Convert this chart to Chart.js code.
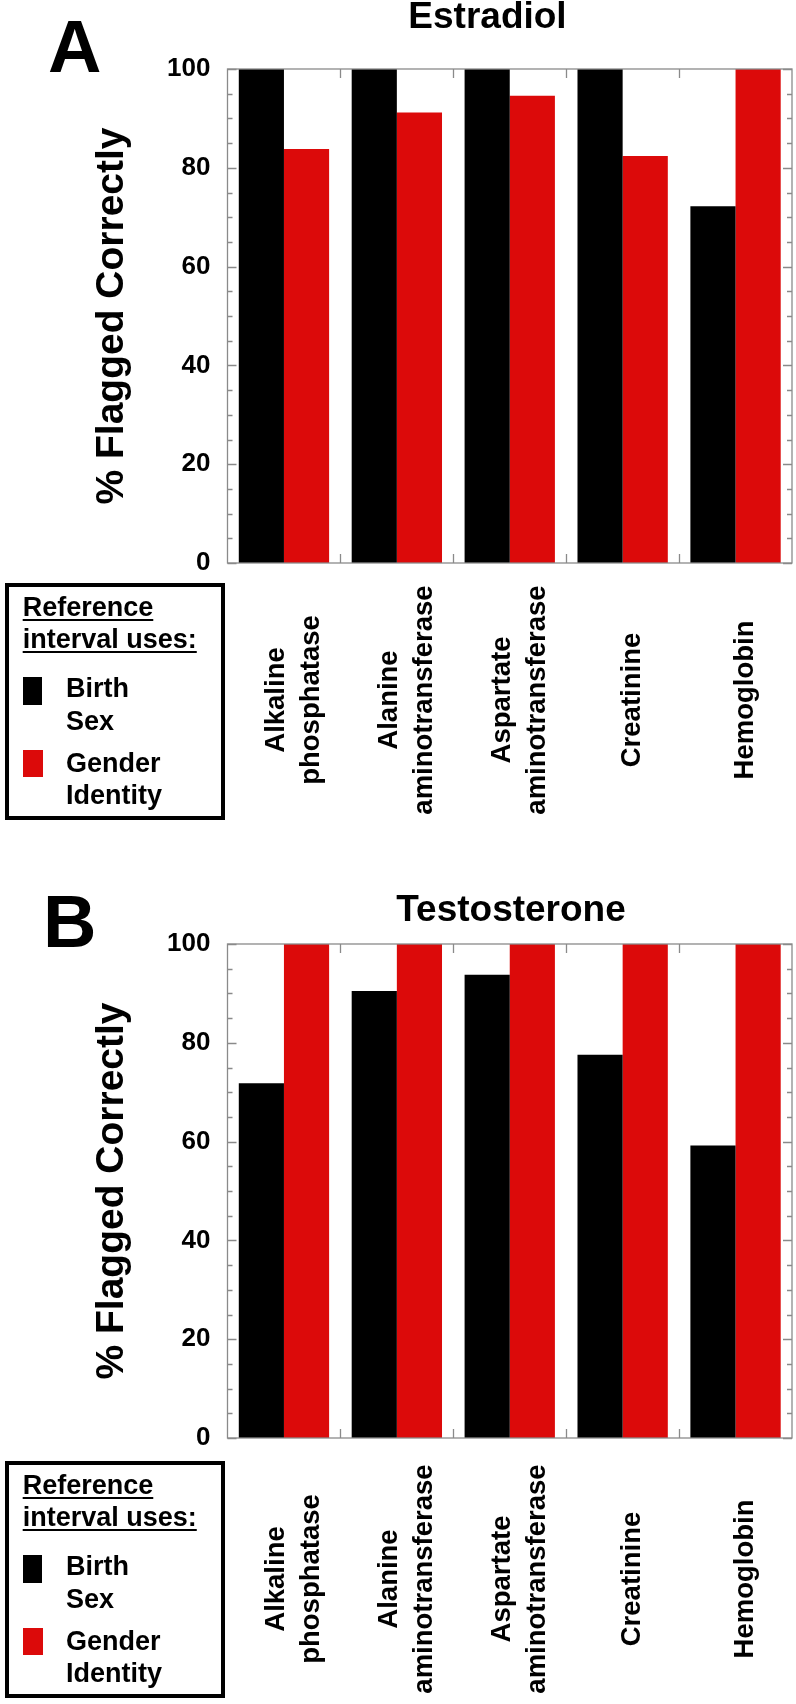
<!DOCTYPE html>
<html>
<head>
<meta charset="utf-8">
<script src="https://cdn.jsdelivr.net/npm/chart.js@4.4.1/dist/chart.umd.min.js"></script>
<style>
  html, body { margin: 0; padding: 0; background: #fff; }
  body { width: 796px; height: 1704px; position: relative; overflow: hidden; font-family: "Liberation Sans", Arial, sans-serif; font-weight: bold; color: #000; }
  canvas { position: absolute; left: 0; }
  .t { position: absolute; white-space: nowrap; font-weight: bold; }
  .box { position: absolute; box-sizing: border-box; border: 4px solid #000; }
  .sw { position: absolute; }
  .u { text-decoration: underline; text-decoration-thickness: 2px; text-underline-offset: 3px; }
</style>
</head>
<body>
<canvas id="chartA" width="796" height="860" style="top:0px;width:796px;height:860px"></canvas>
<canvas id="chartB" width="796" height="829" style="top:875px;width:796px;height:829px"></canvas>
<script>
// ---------- data ----------
const categories = [
  ['Alkaline', 'phosphatase'],
  ['Alanine', 'aminotransferase'],
  ['Aspartate', 'aminotransferase'],
  ['Creatinine'],
  ['Hemoglobin']
];
const seriesNames = ['Birth Sex', 'Gender Identity'];
const estradiolBirthSex       = [100, 100, 100, 100, 72.2];
const estradiolGenderIdentity = [83.8, 91.2, 94.6, 82.4, 100];
const testosteroneBirthSex       = [71.8, 90.5, 93.8, 77.6, 59.2];
const testosteroneGenderIdentity = [100, 100, 100, 100, 100];
const yTicks = [0, 20, 40, 60, 80, 100];
const panelTitles = ['Estradiol', 'Testosterone'];
const panelLetters = ['A', 'B'];
const yAxisTitle = '% Flagged Correctly';
const legendHeading = ['Reference', 'interval uses:'];
const legendLines = [['Birth', 'Sex'], ['Gender', 'Identity']];

// ---------- style ----------
const FONT = '"Liberation Sans", Arial, sans-serif';
const BLACK = '#000000';
const RED = '#dc0a0a';
const FRAME = '#8a8a8a';
const PLOT_TOP = 69, PLOT_BOTTOM = 563, PLOT_LEFT = 227.5, PLOT_RIGHT = 792;
const MINOR_STEP = 5, MAJOR_STEP = 20;

const framePlugin = {
  id: 'frame',
  afterDatasetsDraw(chart) {
    const { ctx, chartArea: a, scales: { x, y } } = chart;
    ctx.save();
    ctx.strokeStyle = FRAME;
    ctx.lineWidth = 1.3;
    ctx.strokeRect(a.left, a.top, a.right - a.left, a.bottom - a.top);
    ctx.beginPath();
    for (let v = y.min; v <= y.max; v += MINOR_STEP) {
      const py = Math.round(y.getPixelForValue(v)) + 0.5;
      const len = (v % MAJOR_STEP === 0) ? 9 : 5;
      ctx.moveTo(a.left, py); ctx.lineTo(a.left + len, py);
      ctx.moveTo(a.right, py); ctx.lineTo(a.right - len, py);
    }
    const n = chart.data.labels.length;
    for (let i = 0; i < n - 1; i++) {
      const px = Math.round((x.getPixelForValue(i) + x.getPixelForValue(i + 1)) / 2) + 0.5;
      ctx.moveTo(px, a.top); ctx.lineTo(px, a.top + 9);
      ctx.moveTo(px, a.bottom); ctx.lineTo(px, a.bottom - 9);
    }
    ctx.stroke();
    ctx.restore();
  }
};

function makeXLabelPlugin(centerY) {
  return {
    id: 'xlabels',
    afterDraw(chart) {
      const { ctx, scales: { x } } = chart;
      const fs = 27.5, lh = 35, shift = 8;
      const capH = 0.716 * fs;
      ctx.save();
      ctx.fillStyle = '#000';
      ctx.font = 'bold ' + fs + 'px ' + FONT;
      ctx.textAlign = 'center';
      ctx.textBaseline = 'alphabetic';
      categories.forEach((lines, i) => {
        const cx = x.getPixelForValue(i) + shift;
        ctx.save();
        ctx.translate(cx, centerY);
        ctx.rotate(-Math.PI / 2);
        lines.forEach((ln, k) => {
          const off = (k - (lines.length - 1) / 2) * lh + capH / 2;
          ctx.fillText(ln, 0, off);
        });
        ctx.restore();
      });
      ctx.restore();
    }
  };
}

function makeChart(id, canvasH, birth, gender, labelCenterY) {
  return new Chart(document.getElementById(id), {
    type: 'bar',
    data: {
      labels: categories.map(l => l.join(' ')),
      datasets: [
        { label: seriesNames[0], data: birth, backgroundColor: BLACK, borderWidth: 0, categoryPercentage: 0.8, barPercentage: 1.0 },
        { label: seriesNames[1], data: gender, backgroundColor: RED, borderWidth: 0, categoryPercentage: 0.8, barPercentage: 1.0 }
      ]
    },
    options: {
      responsive: false,
      animation: false,
      devicePixelRatio: 1,
      layout: { padding: { top: PLOT_TOP, right: 796 - PLOT_RIGHT, bottom: canvasH - PLOT_BOTTOM, left: 0 } },
      plugins: { legend: { display: false }, tooltip: { enabled: false }, title: { display: false } },
      scales: {
        x: {
          ticks: { display: false },
          grid: { display: false, drawTicks: false },
          border: { display: false },
          afterFit(s) { s.height = 0; }
        },
        y: {
          min: 0, max: 100,
          afterBuildTicks(s) { s.ticks = yTicks.map(v => ({ value: v })); },
          ticks: { color: '#000', padding: 17, font: { family: FONT, size: 26, weight: 'bold' } },
          grid: { display: false, drawTicks: false },
          border: { display: false },
          title: { display: true, text: yAxisTitle, color: '#000', font: { family: FONT, size: 39, weight: 'bold' }, padding: { top: 89, bottom: 0 } },
          afterFit(s) { s.width = PLOT_LEFT; }
        }
      }
    },
    plugins: [framePlugin, makeXLabelPlugin(labelCenterY)]
  });
}

makeChart('chartA', 860, estradiolBirthSex, estradiolGenderIdentity, 700);
makeChart('chartB', 829, testosteroneBirthSex, testosteroneGenderIdentity, 704);

// ---------- HTML text: letters, titles, legends ----------
function addText(txt, fs, left, baseline, opts = {}) {
  const d = document.createElement('div');
  d.className = 't' + (opts.cls ? ' ' + opts.cls : '');
  d.textContent = txt;
  d.style.fontSize = fs + 'px';
  d.style.lineHeight = fs + 'px';
  d.style.top = (baseline - 0.8465 * fs) + 'px';
  if (opts.center) {
    d.style.left = left + 'px';
    d.style.transform = 'translateX(-50%)';
  } else {
    d.style.left = left + 'px';
  }
  document.body.appendChild(d);
}
function addBox(cls, left, top, w, h, color) {
  const d = document.createElement('div');
  d.className = cls;
  d.style.left = left + 'px'; d.style.top = top + 'px';
  d.style.width = w + 'px'; d.style.height = h + 'px';
  if (color) d.style.background = color;
  document.body.appendChild(d);
}

addText(panelLetters[0], 74, 48, 73);
addText(panelLetters[1], 74, 43, 948);
addText(panelTitles[0], 37, 487.5, 28.3, { center: true });
addText(panelTitles[1], 37, 511, 921.7, { center: true });

function addLegend(dy) {
  addBox('box', 5, 583 + dy, 220, 237);
  addText(legendHeading[0], 27, 22.7, 616.7 + dy, { cls: 'u' });
  addText(legendHeading[1], 27, 22.7, 649.3 + dy, { cls: 'u' });
  addBox('sw', 22.7, 677 + dy, 19, 28, BLACK);
  addBox('sw', 22.7, 750 + dy, 20, 27, RED);
  addText(legendLines[0][0], 27, 66, 698 + dy);
  addText(legendLines[0][1], 27, 66, 731 + dy);
  addText(legendLines[1][0], 27, 66, 772.7 + dy);
  addText(legendLines[1][1], 27, 66, 805 + dy);
}
addLegend(0);
addLegend(878);
</script>
</body>
</html>
